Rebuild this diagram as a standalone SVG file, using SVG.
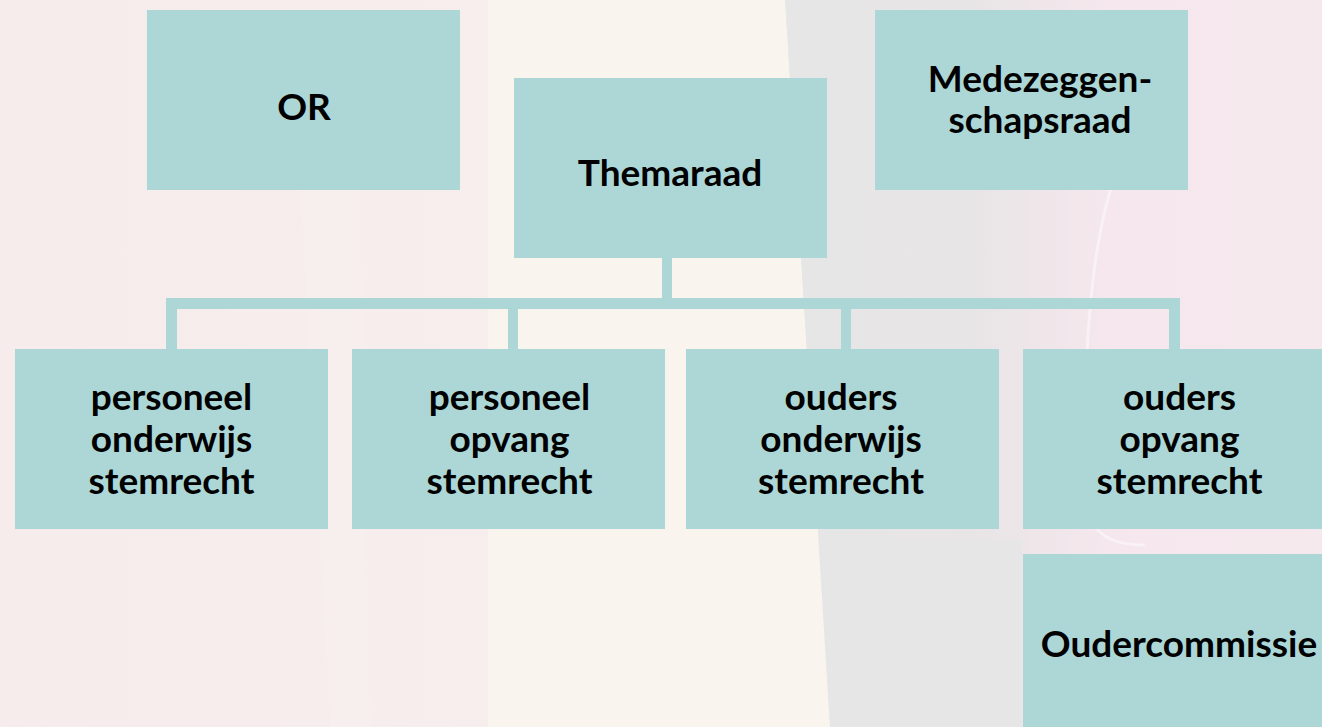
<svg xmlns="http://www.w3.org/2000/svg" width="1322" height="727" viewBox="0 0 1322 727">
  <style>
    .box { fill: #acd7d6; }
    .lbl { font-family: Lato, "Noto Sans", "Liberation Sans", sans-serif; font-weight: 700; font-size: 37px; fill: #000; text-anchor: middle; }
    .conn { fill: #acd7d6; }
  </style>
  <defs>
    <linearGradient id="bgLeft" x1="0" y1="0" x2="1" y2="0">
      <stop offset="0" stop-color="#f6ecec"/>
      <stop offset="0.6" stop-color="#f7eeee"/>
      <stop offset="1" stop-color="#f8f1f1"/>
    </linearGradient>
    <linearGradient id="bgRight" x1="0" y1="0" x2="1" y2="0">
      <stop offset="0" stop-color="#e6e6e6"/>
      <stop offset="0.35" stop-color="#e8e5e6"/>
      <stop offset="0.6" stop-color="#f5e7ed"/>
      <stop offset="1" stop-color="#f6e9ee"/>
    </linearGradient>
  </defs>
  <g id="background">
    <rect x="0" y="0" width="1322" height="727" fill="url(#bgLeft)"/>
    <polygon points="488,0 785,0 830,727 488,727" fill="#f9f5ee"/>
    <polygon points="785,0 1322,0 1322,727 830,727" fill="url(#bgRight)"/>
    <polygon points="830,540 1022,540 1022,727 830,727" fill="#e6e6e6"/>
    <polygon points="300,190 360,190 370,727 330,727" fill="#f9f3f3" opacity="0.3"/>
    <path d="M1112,185 C1088,260 1080,400 1088,510 C1095,540 1120,545 1145,545" fill="none" stroke="#ffffff" stroke-width="3" opacity="0.45"/>
  </g>
  <g id="connectors">
    <rect class="conn" x="662" y="258" width="10" height="44"/>
    <rect class="conn" x="166" y="298" width="1014" height="11"/>
    <rect class="conn" x="166" y="298" width="11" height="51"/>
    <rect class="conn" x="508" y="298" width="10" height="51"/>
    <rect class="conn" x="841" y="298" width="10" height="51"/>
    <rect class="conn" x="1169" y="298" width="11" height="51"/>
  </g>
  <g id="node-or">
    <rect class="box" x="147" y="10" width="313" height="180"/>
    <text class="lbl" x="304" y="120">OR</text>
  </g>
  <g id="node-themaraad">
    <rect class="box" x="514" y="78" width="313" height="180"/>
    <text class="lbl" x="670" y="186">Themaraad</text>
  </g>
  <g id="node-mr">
    <rect class="box" x="875" y="10" width="313" height="180"/>
    <text class="lbl" x="1040" y="92">Medezeggen-</text>
    <text class="lbl" x="1040" y="133">schapsraad</text>
  </g>
  <g id="node-personeel-onderwijs">
    <rect class="box" x="15" y="349" width="313" height="180"/>
    <text class="lbl" x="171.5" y="410">personeel</text>
    <text class="lbl" x="171.5" y="452">onderwijs</text>
    <text class="lbl" x="171.5" y="494">stemrecht</text>
  </g>
  <g id="node-personeel-opvang">
    <rect class="box" x="352" y="349" width="313" height="180"/>
    <text class="lbl" x="509.5" y="410">personeel</text>
    <text class="lbl" x="509.5" y="452">opvang</text>
    <text class="lbl" x="509.5" y="494">stemrecht</text>
  </g>
  <g id="node-ouders-onderwijs">
    <rect class="box" x="686" y="349" width="313" height="180"/>
    <text class="lbl" x="841" y="410">ouders</text>
    <text class="lbl" x="841" y="452">onderwijs</text>
    <text class="lbl" x="841" y="494">stemrecht</text>
  </g>
  <g id="node-ouders-opvang">
    <rect class="box" x="1023" y="349" width="313" height="180"/>
    <text class="lbl" x="1179.5" y="410">ouders</text>
    <text class="lbl" x="1179.5" y="452">opvang</text>
    <text class="lbl" x="1179.5" y="494">stemrecht</text>
  </g>
  <g id="node-oudercommissie">
    <rect class="box" x="1023" y="554" width="313" height="180"/>
    <text class="lbl" x="1179" y="657">Oudercommissie</text>
  </g>
</svg>
